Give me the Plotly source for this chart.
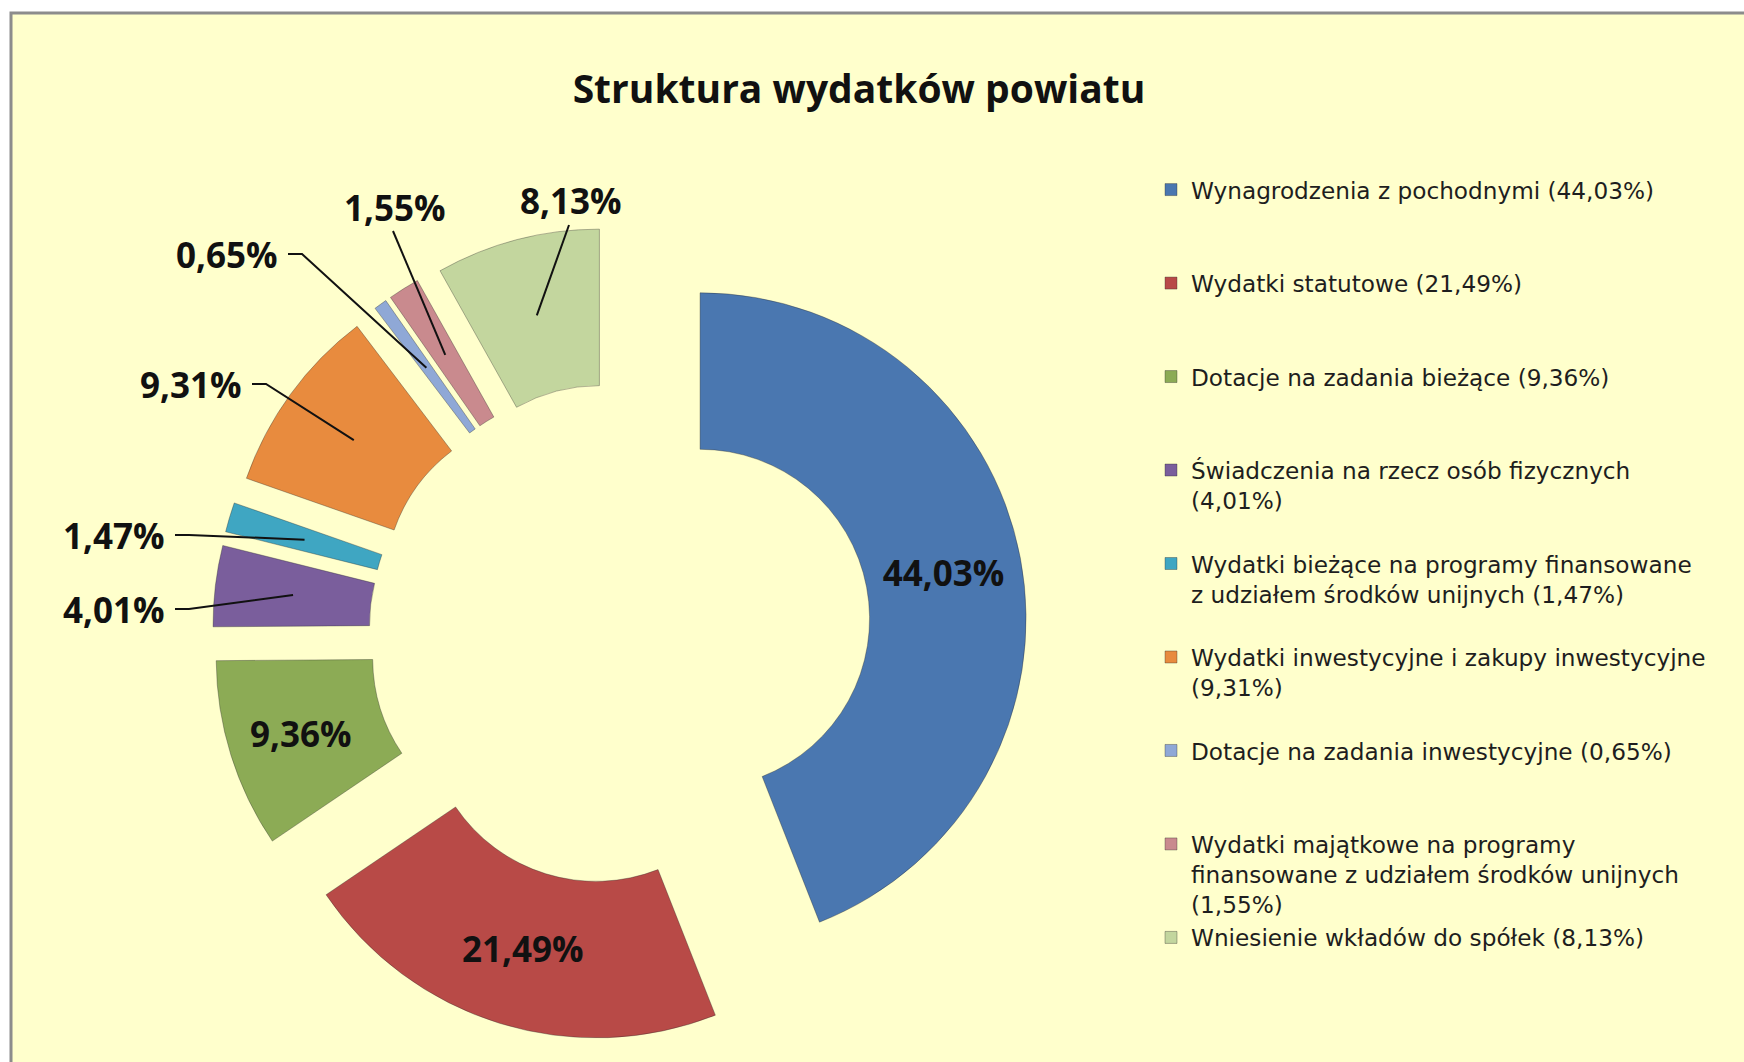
import math
import plotly.graph_objects as go

# ---------------- data ----------------
title_text = "Struktura wydatków powiatu"
categories = [
    "Wynagrodzenia z pochodnymi",
    "Wydatki statutowe",
    "Dotacje na zadania bieżące",
    "Świadczenia na rzecz osób fizycznych",
    "Wydatki bieżące na programy finansowane z udziałem środków unijnych",
    "Wydatki inwestycyjne i zakupy inwestycyjne",
    "Dotacje na zadania inwestycyjne",
    "Wydatki majątkowe na programy finansowane z udziałem środków unijnych",
    "Wniesienie wkładów do spółek",
]
values = [44.03, 21.49, 9.36, 4.01, 1.47, 9.31, 0.65, 1.55, 8.13]
legend_labels = [
    "Wynagrodzenia z pochodnymi (44,03%)",
    "Wydatki statutowe (21,49%)",
    "Dotacje na zadania bieżące (9,36%)",
    "Świadczenia na rzecz osób fizycznych<br>(4,01%)",
    "Wydatki bieżące na programy finansowane<br>z udziałem środków unijnych (1,47%)",
    "Wydatki inwestycyjne i zakupy inwestycyjne<br>(9,31%)",
    "Dotacje na zadania inwestycyjne (0,65%)",
    "Wydatki majątkowe na programy<br>finansowane z udziałem środków unijnych<br>(1,55%)",
    "Wniesienie wkładów do spółek (8,13%)",
]
inside_labels = [0, 1, 2]          # slices labelled inside
colors = ["#4A77B0", "#B84A47", "#8CAB55", "#7A5E9C", "#3FA6C2",
          "#E88B3E", "#8FA8D6", "#C98A8E", "#C3D69E"]

# ---------------- layout constants ----------------
W, H = 1744, 1062
CX, CY = 620, 634          # pie centre (px)
R = 326                    # outer radius (px)
PULL = 0.25
HOLE = 0.52
FONT = "Open Sans"
LEGEND_FONT = "DejaVu Sans"
LABEL_SIZE = 35

# outside labels: (slice index, anchor x px, anchor y px, style)
outside = [
    (8, 571, 201, "top"),
    (7, 395, 207, "top"),
    (6, 280, 254, "left"),
    (5, 244, 384, "left"),
    (4, 167, 535, "left"),
    (3, 167, 609, "left"),
]


def fmt(v):
    return f"{v:.2f}".replace(".", ",")


def px2paper(x, y):
    return x / W, 1 - y / H


half = R * (1 + PULL)
dom_x = [(CX - half) / W, (CX + half) / W]
dom_y = [(H - CY - half) / H, (H - CY + half) / H]

max_lines = 3
labels = []
for lab in legend_labels:
    n = lab.count("<br>") + 1
    labels.append(lab + "<br>\u00a0" * (max_lines - n))

text = [fmt(v) + "%" if i in inside_labels else "" for i, v in enumerate(values)]

fig = go.Figure()
fig.add_trace(go.Pie(
    labels=labels,
    values=values,
    sort=False,
    direction="clockwise",
    rotation=0,
    hole=HOLE,
    pull=[PULL] * len(values),
    marker=dict(colors=colors, line=dict(color="rgba(40,40,40,0.35)", width=1)),
    text=text,
    textinfo="text",
    textposition="inside",
    insidetextorientation="horizontal",
    textfont=dict(family=FONT, size=LABEL_SIZE, color="#111111", weight="bold"),
    domain=dict(x=dom_x, y=dom_y),
    hoverinfo="label+value",
))

# outside labels with leader lines, heads computed from slice geometry
total = sum(values)
cum = [sum(values[:i]) for i in range(len(values))]
shapes = [dict(type="rect", xref="paper", yref="paper",
               x0=11 / W, x1=1.02, y0=-0.02, y1=1 - 13 / H,
               line=dict(color="#8C8C8C", width=3), fillcolor="#FFFFCC",
               layer="below")]
annotations = []
for idx, ax_, ay_, style in outside:
    mid = (cum[idx] + values[idx] / 2) / total * 2 * math.pi
    dx, dy = math.sin(mid), -math.cos(mid)
    rh = PULL * R + R * (1 + HOLE) / 2
    hx, hy = CX + rh * dx, CY + rh * dy
    lab = fmt(values[idx]) + "%"
    tx, ty = px2paper(ax_, ay_)
    annotations.append(dict(x=tx, y=ty, xref="paper", yref="paper",
                            text=f"<b>{lab}</b>", showarrow=False,
                            xanchor="center" if style == "top" else "right",
                            yanchor="middle",
                            font=dict(family=FONT, size=LABEL_SIZE, color="#111111")))
    if style == "top":
        pts = [(ax_ - 2, ay_ + 24), (hx, hy)]
    else:
        pts = [(ax_ + 8, ay_), (ax_ + 22, ay_), (hx, hy)]
    path = ""
    for k, (px, py) in enumerate(pts):
        X, Y = px2paper(px, py)
        path += ("M" if k == 0 else " L") + f" {X:.5f},{Y:.5f}"
    shapes.append(dict(type="path", xref="paper", yref="paper", path=path,
                       line=dict(color="#111111", width=2)))

fig.update_layout(
    width=W, height=H,
    margin=dict(l=0, r=0, t=0, b=0),
    paper_bgcolor="white",
    plot_bgcolor="#FFFFCC",
    title=dict(text=f"<b>{title_text}</b>", x=859 / W, y=1 - 89 / H,
               xref="paper", yref="paper", xanchor="center", yanchor="middle",
               font=dict(family=FONT, size=39, color="#111111")),
    legend=dict(x=1151 / W, y=1 - 168 / H, xanchor="left", yanchor="top",
                bgcolor="rgba(0,0,0,0)", valign="top", traceorder="normal",
                font=dict(family=LEGEND_FONT, size=23.2, color="#1E1E1E")),
    shapes=shapes,
    annotations=annotations,
    showlegend=True,
)

fig.write_html("out.html", config={"displayModeBar": False},
               post_script="document.body.style.margin='0';")
